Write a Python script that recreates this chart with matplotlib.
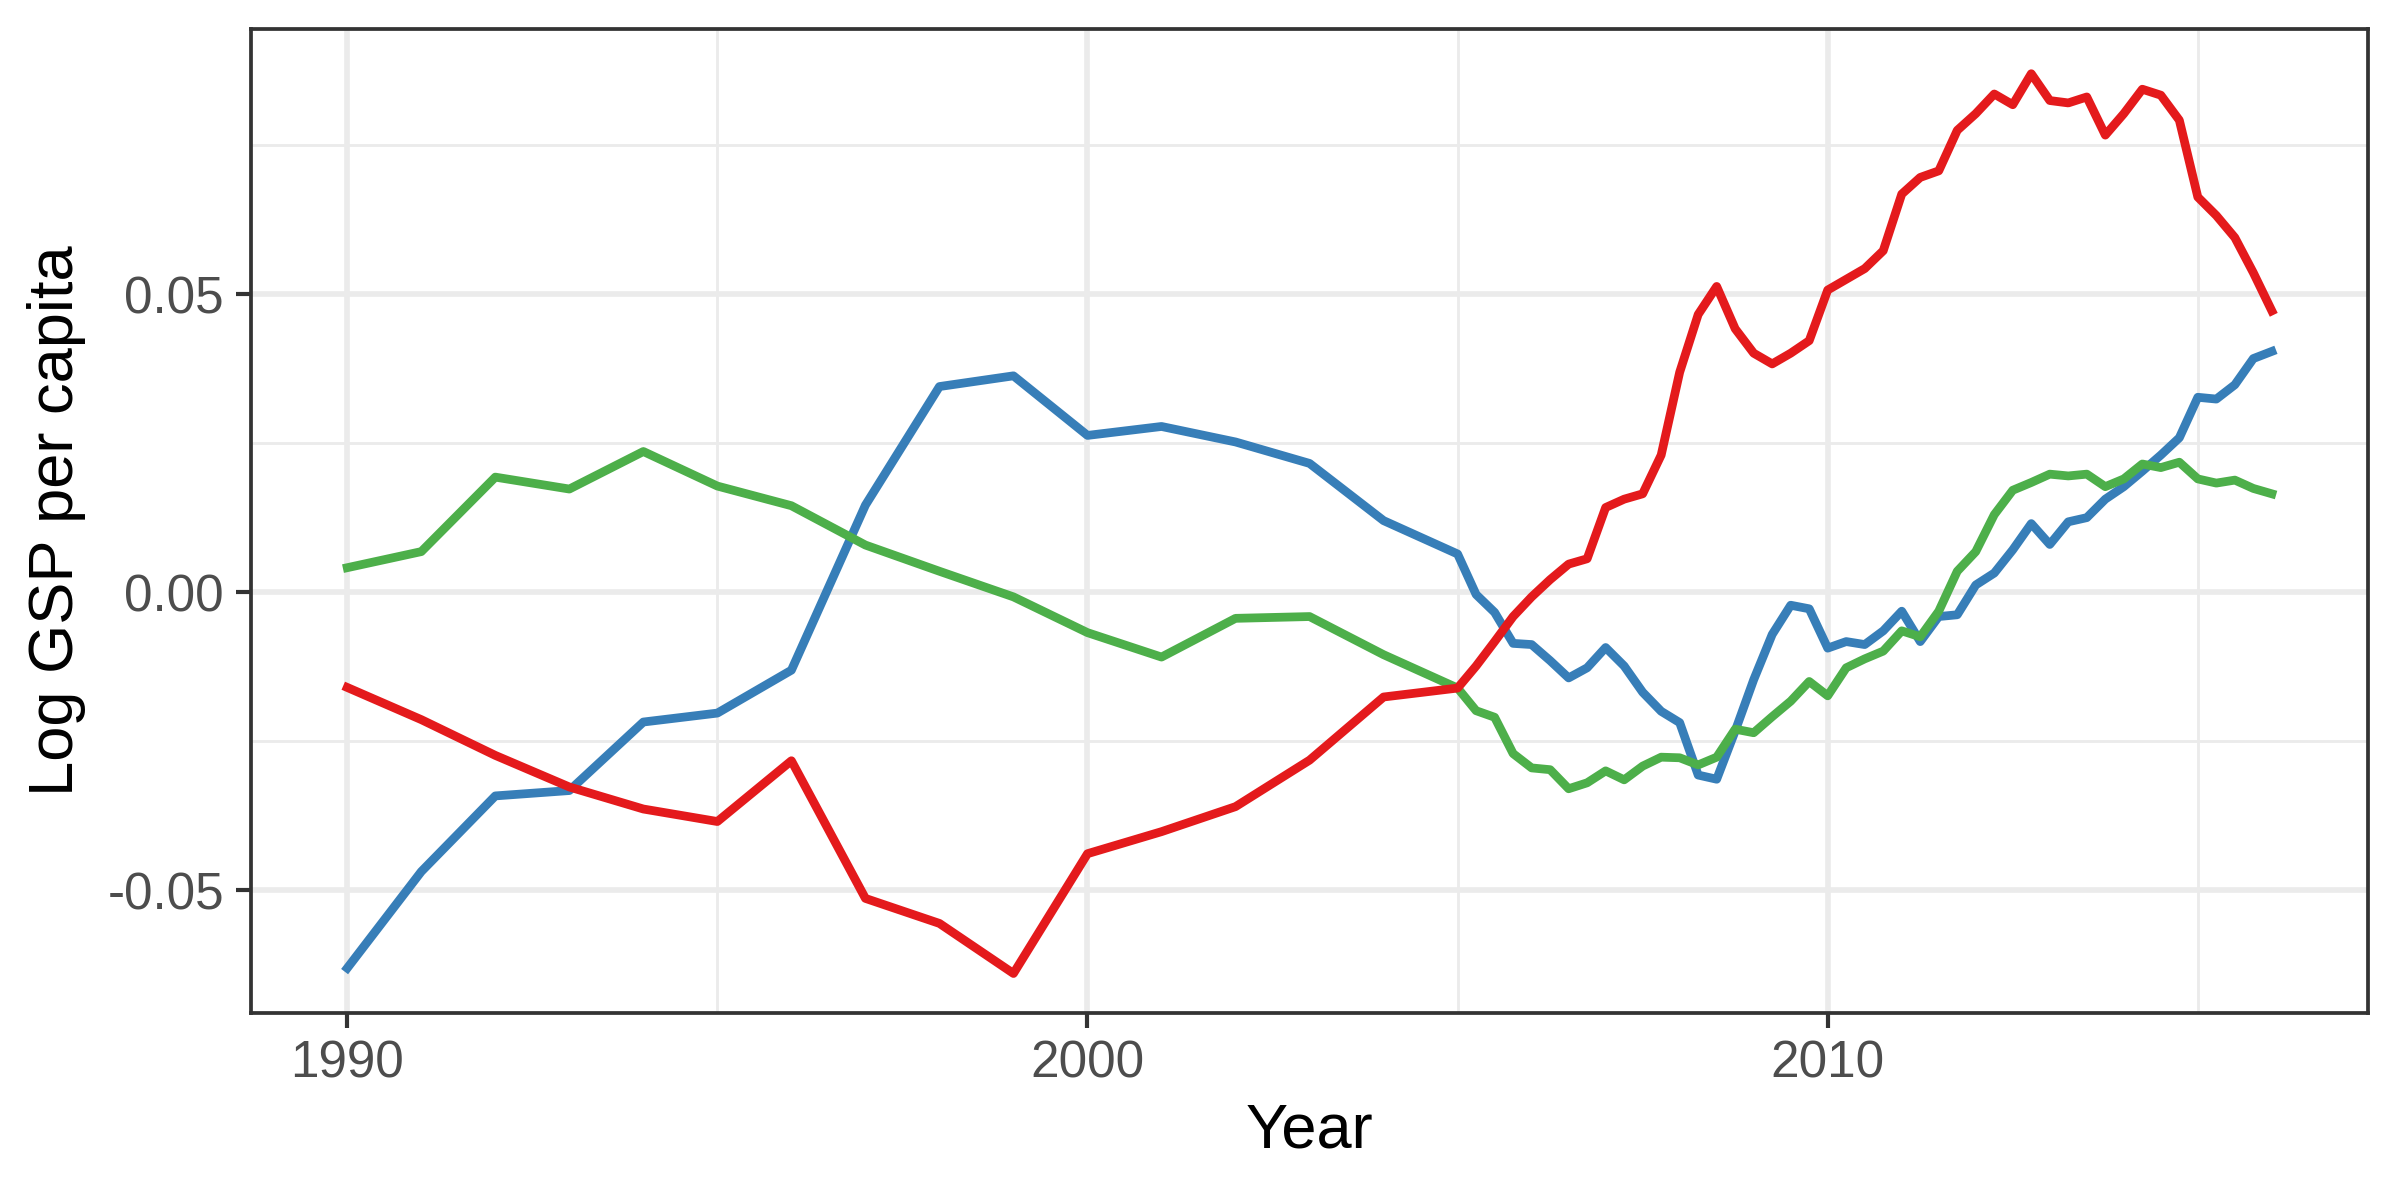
import matplotlib
matplotlib.use('Agg')
import matplotlib.pyplot as plt
import numpy as np

plt.rcParams['font.family'] = ['Liberation Sans', 'DejaVu Sans']

# time axis: annual 1990-2004, quarterly 2005Q1-2016Q1
annual_years = [1990, 1991, 1992, 1993, 1994, 1995, 1996, 1997,
                1998, 1999, 2000, 2001, 2002, 2003, 2004]
quarter_times = list(np.arange(2005.0, 2016.01, 0.25))
time = annual_years + quarter_times

red = [-0.0160, -0.0214, -0.0274, -0.0327, -0.0364, -0.0385, -0.0283, -0.0514,
       -0.0556, -0.0640, -0.0439, -0.0402, -0.0360, -0.0282, -0.0176,
       -0.0161, -0.0124, -0.0083, -0.0041, -0.0008, 0.0021, 0.0047, 0.0056,
       0.0142, 0.0156, 0.0165, 0.0230, 0.0369, 0.0466, 0.0513, 0.0442,
       0.0401, 0.0383, 0.0401, 0.0422, 0.0507, 0.0525, 0.0543, 0.0573,
       0.0668, 0.0696, 0.0707, 0.0775, 0.0803, 0.0836, 0.0818, 0.0870,
       0.0825, 0.0821, 0.0831, 0.0767, 0.0803, 0.0844, 0.0834, 0.0792,
       0.0663, 0.0632, 0.0595, 0.0536, 0.0472]

blue = [-0.0631, -0.0469, -0.0342, -0.0333, -0.0218, -0.0203, -0.0131, 0.0146,
        0.0345, 0.0363, 0.0263, 0.0278, 0.0252, 0.0216, 0.0120,
        0.0064, -0.0004, -0.0034, -0.0086, -0.0088, -0.0115, -0.0144, -0.0127,
        -0.0093, -0.0124, -0.0168, -0.0200, -0.0219, -0.0307, -0.0314, -0.0233,
        -0.0147, -0.0071, -0.0022, -0.0028, -0.0094, -0.0083, -0.0088, -0.0065,
        -0.0032, -0.0083, -0.0041, -0.0038, 0.0012, 0.0032, 0.0071, 0.0115,
        0.0080, 0.0118, 0.0125, 0.0156, 0.0177, 0.0203, 0.0230, 0.0259,
        0.0327, 0.0324, 0.0348, 0.0392, 0.0404]

green = [0.0041, 0.0068, 0.0193, 0.0173, 0.0236, 0.0178, 0.0145, 0.0079,
         0.0035, -0.0008, -0.0068, -0.0109, -0.0044, -0.0041, -0.0105,
         -0.0161, -0.0199, -0.0210, -0.0271, -0.0295, -0.0298, -0.0330, -0.0320,
         -0.0300, -0.0315, -0.0292, -0.0277, -0.0278, -0.0290, -0.0277, -0.0230,
         -0.0236, -0.0209, -0.0183, -0.0150, -0.0174, -0.0127, -0.0112, -0.0099,
         -0.0065, -0.0075, -0.0032, 0.0035, 0.0068, 0.0130, 0.0171, 0.0184,
         0.0198, 0.0195, 0.0198, 0.0177, 0.0190, 0.0215, 0.0209, 0.0218,
         0.0190, 0.0183, 0.0188, 0.0174, 0.0165]

x_ticks = [1990, 2000, 2010]
x_minor = [1995, 2005, 2015]
y_ticks = [-0.05, 0.0, 0.05]
y_labels = ['-0.05', '0.00', '0.05']
y_minor = [-0.075, -0.025, 0.025, 0.075]

fig = plt.figure(figsize=(8, 4), dpi=300)
ax = fig.add_axes([0.1046, 0.156, 0.8821, 0.8198])

grid_col = '#EBEBEB'
for v in x_ticks:
    ax.axvline(v, color=grid_col, lw=1.36, zorder=0)
for v in x_minor:
    ax.axvline(v, color=grid_col, lw=0.68, zorder=0)
for v in y_ticks:
    ax.axhline(v, color=grid_col, lw=1.36, zorder=0)
for v in y_minor:
    ax.axhline(v, color=grid_col, lw=0.68, zorder=0)

ax.plot(time, red, color='#E41A1C', lw=2.1, zorder=3)
ax.plot(time, blue, color='#377EB8', lw=2.1, zorder=2)
ax.plot(time, green, color='#4DAF4A', lw=2.1, zorder=2)

ax.set_xlim(1988.7, 2017.3)
ax.set_ylim(-0.0706, 0.0945)

ax.set_xticks(x_ticks)
ax.set_xticklabels([str(v) for v in x_ticks])
ax.set_yticks(y_ticks)
ax.set_yticklabels(y_labels)
ax.tick_params(axis='both', colors='#333333', length=3.5, width=1.0,
               labelsize=12.3, labelcolor='#4D4D4D', pad=3)

for s in ax.spines.values():
    s.set_color('#333333')
    s.set_linewidth(0.9)

ax.set_xlabel('Year', fontsize=15.2, color='black', labelpad=3)
ax.set_ylabel('Log GSP per capita', fontsize=15.2, color='black', labelpad=5)

fig.savefig('out.png', dpi=300)
